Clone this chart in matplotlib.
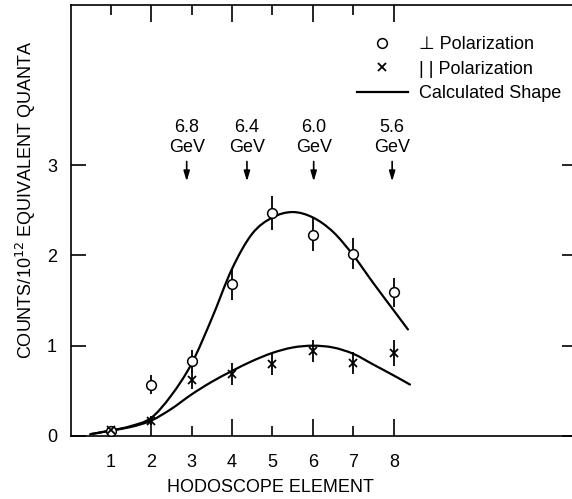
import matplotlib
matplotlib.use("Agg")
import matplotlib.pyplot as plt
from matplotlib.lines import Line2D
from matplotlib.path import Path
from matplotlib.patches import PathPatch

plt.rcParams['font.family'] = ['Liberation Sans', 'DejaVu Sans']

# Data
elements = [1, 2, 3, 4, 5, 6, 7, 8]
perp_vals = [0.06, 0.57, 0.83, 1.68, 2.47, 2.23, 2.02, 1.59]
perp_err = [0.04, 0.11, 0.12, 0.17, 0.19, 0.18, 0.17, 0.16]
par_vals = [0.07, 0.17, 0.62, 0.69, 0.80, 0.94, 0.81, 0.92]
par_err = [0.04, 0.05, 0.10, 0.12, 0.12, 0.12, 0.12, 0.14]

curve_perp_x = [0.5, 1, 1.5, 2, 2.5, 3, 3.5, 4, 4.5, 5, 5.5, 6, 6.5, 7, 7.5, 8, 8.35]
curve_perp_y = [0.02, 0.06, 0.11, 0.20, 0.45, 0.80, 1.30, 1.85, 2.24, 2.42, 2.48, 2.42, 2.26, 2.00, 1.69, 1.39, 1.18]
curve_par_x = [0.5, 1, 1.5, 2, 2.5, 3, 3.5, 4, 4.5, 5, 5.5, 6, 6.5, 7, 7.5, 8, 8.4]
curve_par_y = [0.02, 0.06, 0.10, 0.17, 0.30, 0.46, 0.60, 0.72, 0.83, 0.92, 0.98, 1.00, 0.98, 0.91, 0.79, 0.67, 0.57]

energy_labels = ["6.8", "6.4", "6.0", "5.6"]
energy_pos = [2.88, 4.37, 6.02, 7.96]

x_major = [2, 4, 6, 8]
x_major_labels = ["2", "4", "6", "8"]
x_minor = [1, 3, 5, 7]
x_minor_labels = ["1", "3", "5", "7"]
y_ticks = [0, 1, 2, 3]
y_ticklabels = ["0", "1", "2", "3"]


def smooth_path(xs, ys):
    """Catmull-Rom style cubic Bezier path through the given points."""
    pts = list(zip(xs, ys))
    verts = [pts[0]]
    codes = [Path.MOVETO]
    n = len(pts)
    for i in range(n - 1):
        p0 = pts[i - 1] if i > 0 else pts[i]
        p1 = pts[i]
        p2 = pts[i + 1]
        p3 = pts[i + 2] if i + 2 < n else pts[i + 1]
        c1 = (p1[0] + (p2[0] - p0[0]) / 6, p1[1] + (p2[1] - p0[1]) / 6)
        c2 = (p2[0] - (p3[0] - p1[0]) / 6, p2[1] - (p3[1] - p1[1]) / 6)
        verts += [c1, c2, p2]
        codes += [Path.CURVE4] * 3
    return Path(verts, codes)


fig = plt.figure(figsize=(5.72, 4.99), dpi=100)
ax = fig.add_axes([71/572, (499-436)/499, (577-71)/572, (436-5)/499])
ax.set_xlim(0.02, 12.53)
ax.set_ylim(0, (436-5)/90.3)

fs = 13
for cx, cy in [(curve_perp_x, curve_perp_y), (curve_par_x, curve_par_y)]:
    ax.add_patch(PathPatch(smooth_path(cx, cy), fill=False, edgecolor='black',
                           lw=1.6, capstyle='round', transform=ax.transData))
ax.errorbar(elements, perp_vals, yerr=perp_err, fmt='o', mfc='white', mec='black',
            ms=7, mew=1.1, ecolor='black', elinewidth=1.3, capsize=0, zorder=3)
ax.errorbar(elements, par_vals, yerr=par_err, fmt='x', color='black',
            ms=6, mew=1.3, ecolor='black', elinewidth=1.3, capsize=0, zorder=3)

for lab, xp in zip(energy_labels, energy_pos):
    ax.text(xp, 3.42, lab, ha='center', va='center', fontsize=fs)
    ax.text(xp, 3.20, "GeV", ha='center', va='center', fontsize=fs)
    ax.annotate("", xy=(xp, 2.82), xytext=(xp, 3.04),
                arrowprops=dict(arrowstyle='-|>,head_length=0.6,head_width=0.18',
                                color='black', lw=1.2, shrinkA=0, shrinkB=0))

ax.set_xticks(x_major)
ax.set_xticklabels(x_major_labels)
ax.set_xticks(x_minor, minor=True)
ax.set_xticklabels(x_minor_labels, minor=True)
ax.set_yticks(y_ticks)
ax.set_yticklabels(y_ticklabels)
ax.tick_params(which='both', direction='in', top=True, right=True, labelsize=fs, width=1.2)
ax.tick_params(axis='x', which='major', length=12, pad=13)
ax.tick_params(axis='x', which='minor', length=7, pad=13)
ax.tick_params(axis='y', which='major', length=11, pad=10)
ax.tick_params(axis='y', which='minor', left=False, right=False)
for sp in ax.spines.values():
    sp.set_linewidth(1.2)

ax.set_xlabel("HODOSCOPE ELEMENT", fontsize=fs)
ax.xaxis.set_label_coords((270-71)/(577-71), -(479-436)/(436-5), transform=ax.transAxes)
ax.set_ylabel("COUNTS/10$^{12}$ EQUIVALENT QUANTA", fontsize=fs)
ax.yaxis.set_label_coords(-(71-38)/(577-71), (436-200)/(436-5), transform=ax.transAxes)

handles = [
    Line2D([], [], marker='o', ls='none', mfc='white', mec='black', ms=7, mew=1.1),
    Line2D([], [], marker='x', ls='none', color='black', ms=6, mew=1.3),
    Line2D([], [], color='black', lw=1.6),
]
labels = ["\u22a5 Polarization", "| | Polarization", "Calculated Shape"]
fig.legend(handles, labels, loc='upper left', bbox_to_anchor=(357/572, 1 - 36/499),
           frameon=False, fontsize=fs, handlelength=2.8, handletextpad=0.65,
           labelspacing=0.42, borderpad=0, borderaxespad=0)

fig.savefig("out.png", dpi=100)
